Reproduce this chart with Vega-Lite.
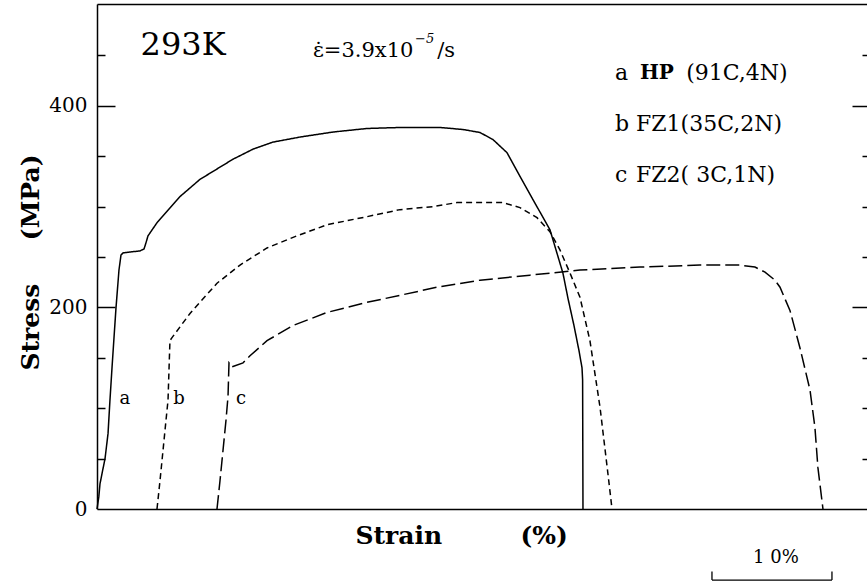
{
  "$schema": "https://vega.github.io/schema/vega-lite/v6.json",
  "autosize": {"type": "none"},
  "padding": {"left": 97, "top": 4, "right": 0, "bottom": 73},
  "width": 770,
  "height": 505,
  "background": "white",
  "config": {
    "view": {"stroke": null},
    "axis": {"domainColor": "black", "domainWidth": 1.5, "tickColor": "black", "tickWidth": 1.5, "labelColor": "black", "titleColor": "black", "grid": false, "labelFont": "DejaVu Serif", "titleFont": "DejaVu Serif"},
    "text": {"font": "DejaVu Serif", "color": "black"}
  },
  "datasets": {
    "curves": [
      {"sample": "a", "strain": 0, "stress": 0},
      {"sample": "a", "strain": 0.15, "stress": 12},
      {"sample": "a", "strain": 0.25, "stress": 25},
      {"sample": "a", "strain": 0.5, "stress": 40},
      {"sample": "a", "strain": 0.67, "stress": 50},
      {"sample": "a", "strain": 0.92, "stress": 75},
      {"sample": "a", "strain": 1.08, "stress": 108},
      {"sample": "a", "strain": 1.25, "stress": 140},
      {"sample": "a", "strain": 1.58, "stress": 199},
      {"sample": "a", "strain": 1.83, "stress": 237},
      {"sample": "a", "strain": 2.0, "stress": 252},
      {"sample": "a", "strain": 2.17, "stress": 254},
      {"sample": "a", "strain": 2.75, "stress": 255},
      {"sample": "a", "strain": 3.58, "stress": 256},
      {"sample": "a", "strain": 3.92, "stress": 258},
      {"sample": "a", "strain": 4.08, "stress": 264},
      {"sample": "a", "strain": 4.25, "stress": 271},
      {"sample": "a", "strain": 5.0, "stress": 284},
      {"sample": "a", "strain": 6.92, "stress": 310},
      {"sample": "a", "strain": 8.58, "stress": 327},
      {"sample": "a", "strain": 11.33, "stress": 347},
      {"sample": "a", "strain": 13.0, "stress": 357},
      {"sample": "a", "strain": 14.67, "stress": 364},
      {"sample": "a", "strain": 16.92, "stress": 369},
      {"sample": "a", "strain": 19.67, "stress": 374},
      {"sample": "a", "strain": 22.5, "stress": 377.5},
      {"sample": "a", "strain": 25.25, "stress": 378.5},
      {"sample": "a", "strain": 28.58, "stress": 378.5},
      {"sample": "a", "strain": 30.5, "stress": 376.5},
      {"sample": "a", "strain": 31.92, "stress": 373.5},
      {"sample": "a", "strain": 33.0, "stress": 366.5},
      {"sample": "a", "strain": 34.17, "stress": 353.5},
      {"sample": "a", "strain": 35.25, "stress": 330},
      {"sample": "a", "strain": 36.33, "stress": 307},
      {"sample": "a", "strain": 37.75, "stress": 277},
      {"sample": "a", "strain": 38.83, "stress": 234},
      {"sample": "a", "strain": 39.25, "stress": 209},
      {"sample": "a", "strain": 39.75, "stress": 182},
      {"sample": "a", "strain": 40.17, "stress": 157},
      {"sample": "a", "strain": 40.42, "stress": 140},
      {"sample": "a", "strain": 40.47, "stress": 128},
      {"sample": "a", "strain": 40.5, "stress": 0},
      {"sample": "b", "strain": 5.0, "stress": 0},
      {"sample": "b", "strain": 5.25, "stress": 28},
      {"sample": "b", "strain": 5.5, "stress": 58},
      {"sample": "b", "strain": 5.75, "stress": 88},
      {"sample": "b", "strain": 5.92, "stress": 108},
      {"sample": "b", "strain": 6.0, "stress": 138},
      {"sample": "b", "strain": 6.08, "stress": 167},
      {"sample": "b", "strain": 6.25, "stress": 170},
      {"sample": "b", "strain": 6.5, "stress": 174},
      {"sample": "b", "strain": 7.75, "stress": 194},
      {"sample": "b", "strain": 10.0, "stress": 224},
      {"sample": "b", "strain": 11.92, "stress": 242},
      {"sample": "b", "strain": 14.17, "stress": 259},
      {"sample": "b", "strain": 16.67, "stress": 271},
      {"sample": "b", "strain": 19.17, "stress": 282},
      {"sample": "b", "strain": 22.5, "stress": 290},
      {"sample": "b", "strain": 25.25, "stress": 297},
      {"sample": "b", "strain": 28.0, "stress": 300},
      {"sample": "b", "strain": 30.0, "stress": 304},
      {"sample": "b", "strain": 33.83, "stress": 304},
      {"sample": "b", "strain": 35.25, "stress": 299},
      {"sample": "b", "strain": 36.67, "stress": 289},
      {"sample": "b", "strain": 37.75, "stress": 275},
      {"sample": "b", "strain": 38.58, "stress": 257},
      {"sample": "b", "strain": 39.42, "stress": 234},
      {"sample": "b", "strain": 40.25, "stress": 210},
      {"sample": "b", "strain": 41.08, "stress": 167},
      {"sample": "b", "strain": 41.92, "stress": 101},
      {"sample": "b", "strain": 42.58, "stress": 35},
      {"sample": "b", "strain": 42.92, "stress": 0},
      {"sample": "c", "strain": 10.0, "stress": 0},
      {"sample": "c", "strain": 10.25, "stress": 28},
      {"sample": "c", "strain": 10.5, "stress": 58},
      {"sample": "c", "strain": 10.75, "stress": 88},
      {"sample": "c", "strain": 10.92, "stress": 112},
      {"sample": "c", "strain": 11.0, "stress": 145},
      {"sample": "c", "strain": 11.25, "stress": 141},
      {"sample": "c", "strain": 12.17, "stress": 145},
      {"sample": "c", "strain": 12.75, "stress": 152},
      {"sample": "c", "strain": 14.17, "stress": 167},
      {"sample": "c", "strain": 16.33, "stress": 182},
      {"sample": "c", "strain": 19.17, "stress": 195},
      {"sample": "c", "strain": 22.5, "stress": 205},
      {"sample": "c", "strain": 25.25, "stress": 212},
      {"sample": "c", "strain": 28.33, "stress": 220},
      {"sample": "c", "strain": 31.92, "stress": 227},
      {"sample": "c", "strain": 36.08, "stress": 232},
      {"sample": "c", "strain": 40.25, "stress": 237},
      {"sample": "c", "strain": 45.25, "stress": 240},
      {"sample": "c", "strain": 50.25, "stress": 242},
      {"sample": "c", "strain": 53.58, "stress": 242},
      {"sample": "c", "strain": 54.83, "stress": 240},
      {"sample": "c", "strain": 55.67, "stress": 235},
      {"sample": "c", "strain": 56.5, "stress": 227},
      {"sample": "c", "strain": 56.92, "stress": 220},
      {"sample": "c", "strain": 57.75, "stress": 197},
      {"sample": "c", "strain": 58.58, "stress": 160},
      {"sample": "c", "strain": 59.42, "stress": 118},
      {"sample": "c", "strain": 59.83, "stress": 81},
      {"sample": "c", "strain": 60.08, "stress": 41},
      {"sample": "c", "strain": 60.5, "stress": 0}
    ],
    "curveLabels": [
      {"t": "a", "strain": 2.33, "stress": 109},
      {"t": "b", "strain": 6.83, "stress": 109},
      {"t": "c", "strain": 12.0, "stress": 109}
    ],
    "legendText": [
      {"t": "a", "strain": 43.17, "stress": 433},
      {"t": "(91C,4N)", "strain": 49.1, "stress": 433},
      {"t": "b", "strain": 43.17, "stress": 382},
      {"t": "FZ1(35C,2N)", "strain": 44.92, "stress": 382},
      {"t": "c", "strain": 43.17, "stress": 331.5},
      {"t": "FZ2( 3C,1N)", "strain": 44.92, "stress": 331.5}
    ],
    "legendBold": [
      {"t": "HP", "strain": 45.25, "stress": 433}
    ],
    "temp": [
      {"t": "293K", "strain": 7.17, "stress": 460.5}
    ],
    "rate": [
      {"t": "ε̇=3.9x10", "strain": 18.0, "stress": 454.6},
      {"t": "/s", "strain": 28.35, "stress": 454.6}
    ],
    "rateExp": [
      {"t": "−5", "strain": 26.5, "stress": 466}
    ],
    "scaleText": [
      {"t": "1 0%", "strain": 56.58, "stress": -48.6}
    ],
    "scaleBar": [
      {"x1": 51.25, "x2": 61.25, "y1": -70.5, "y2": -70.5},
      {"x1": 51.25, "x2": 51.25, "y1": -70.5, "y2": -62},
      {"x1": 61.25, "x2": 61.25, "y1": -70.5, "y2": -62}
    ]
  },
  "resolve": {"axis": {"x": "independent", "y": "independent"}},
  "layer": [
    {
      "data": {"name": "curves"},
      "mark": {"type": "line", "color": "black", "strokeWidth": 1.5},
      "encoding": {
        "x": {"field": "strain", "type": "quantitative", "scale": {"domain": [0, 64.17], "nice": false, "zero": false},
          "axis": {"orient": "bottom", "ticks": false, "labels": false, "domain": true,
            "title": "Strain\u00a0\u00a0\u00a0\u00a0\u00a0\u00a0\u00a0\u00a0\u00a0(%)", "titleFontSize": 25, "titleFontWeight": "bold",
            "titleAlign": "left", "titleAnchor": null, "titleX": 258, "titleY": 26, "titleBaseline": "middle"}},
        "y": {"field": "stress", "type": "quantitative", "scale": {"domain": [0, 501], "nice": false, "zero": false},
          "axis": {"orient": "left", "values": [0, 200, 400], "ticks": false, "labelPadding": 10, "labelFontSize": 20, "labelFlush": false, "labelOverlap": false, "domain": true,
            "title": "Stress\u00a0\u00a0\u00a0\u00a0\u00a0(MPa)", "titleFontSize": 25, "titleFontWeight": "bold", "titleAngle": -90,
            "titleAlign": "left", "titleAnchor": null, "titleX": -67, "titleY": 366, "titleBaseline": "middle"}},
        "strokeDash": {"field": "sample", "type": "nominal", "scale": {"domain": ["a", "b", "c"], "range": [[1, 0], [6, 4], [14, 5]]}, "legend": null}
      }
    },
    {
      "data": {"name": "curveLabels"},
      "mark": {"type": "text", "fontSize": 18, "align": "center", "baseline": "middle"},
      "encoding": {
        "x": {"field": "strain", "type": "quantitative", "axis": {"orient": "top", "ticks": false, "labels": false, "domain": true, "title": null}},
        "y": {"field": "stress", "type": "quantitative", "axis": {"orient": "left", "values": [200, 400], "tickSize": -18, "labels": false, "domain": false, "title": null}},
        "text": {"field": "t"}
      }
    },
    {
      "data": {"name": "legendText"},
      "mark": {"type": "text", "fontSize": 22, "align": "left", "baseline": "middle"},
      "encoding": {
        "x": {"field": "strain", "type": "quantitative", "axis": null},
        "y": {"field": "stress", "type": "quantitative", "axis": {"orient": "left", "values": [50, 100, 150, 250, 300, 350, 450], "tickSize": -8, "labels": false, "domain": false, "title": null}},
        "text": {"field": "t"}
      }
    },
    {
      "data": {"name": "legendBold"},
      "mark": {"type": "text", "fontSize": 20, "fontWeight": "bold", "align": "left", "baseline": "middle"},
      "encoding": {
        "x": {"field": "strain", "type": "quantitative", "axis": null},
        "y": {"field": "stress", "type": "quantitative", "axis": {"orient": "right", "values": [200, 400], "tickSize": -15, "labels": false, "domain": false, "title": null}},
        "text": {"field": "t"}
      }
    },
    {
      "data": {"name": "temp"},
      "mark": {"type": "text", "fontSize": 32, "align": "center", "baseline": "middle"},
      "encoding": {
        "x": {"field": "strain", "type": "quantitative", "axis": null},
        "y": {"field": "stress", "type": "quantitative", "axis": {"orient": "right", "values": [50, 100, 150, 250, 300, 350, 450], "tickSize": -5, "labels": false, "domain": false, "title": null}},
        "text": {"field": "t"}
      }
    },
    {
      "data": {"name": "rate"},
      "mark": {"type": "text", "fontSize": 21, "align": "left", "baseline": "middle"},
      "encoding": {
        "x": {"field": "strain", "type": "quantitative", "axis": null},
        "y": {"field": "stress", "type": "quantitative", "axis": null},
        "text": {"field": "t"}
      }
    },
    {
      "data": {"name": "rateExp"},
      "mark": {"type": "text", "fontSize": 13, "fontStyle": "italic", "align": "left", "baseline": "middle"},
      "encoding": {
        "x": {"field": "strain", "type": "quantitative", "axis": null},
        "y": {"field": "stress", "type": "quantitative", "axis": null},
        "text": {"field": "t"}
      }
    },
    {
      "data": {"name": "scaleText"},
      "mark": {"type": "text", "fontSize": 18, "align": "center", "baseline": "middle"},
      "encoding": {
        "x": {"field": "strain", "type": "quantitative", "axis": null},
        "y": {"field": "stress", "type": "quantitative", "axis": null},
        "text": {"field": "t"}
      }
    },
    {
      "data": {"name": "scaleBar"},
      "mark": {"type": "rule", "color": "black", "strokeWidth": 1.3},
      "encoding": {
        "x": {"field": "x1", "type": "quantitative", "axis": null},
        "x2": {"field": "x2"},
        "y": {"field": "y1", "type": "quantitative", "axis": null},
        "y2": {"field": "y2"}
      }
    }
  ]
}
